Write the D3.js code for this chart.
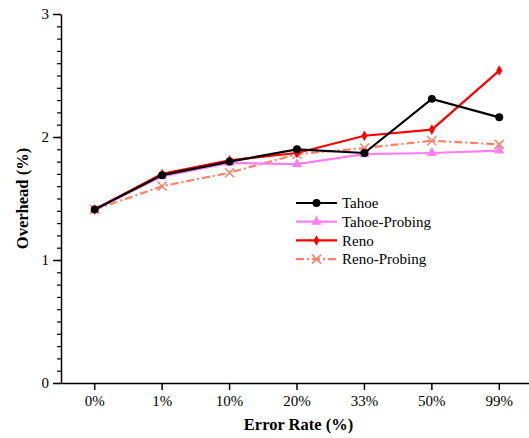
<!DOCTYPE html>
<html>
<head>
<meta charset="utf-8">
<script src="https://cdn.jsdelivr.net/npm/d3@7"></script>
</head>
<body style="margin:0">
<script>
// categories and series
var categories = ["0%", "1%", "10%", "20%", "33%", "50%", "99%"];
var tahoe        = [1.41, 1.69, 1.80, 1.90, 1.87, 2.31, 2.16];
var tahoeProbing = [1.41, 1.68, 1.79, 1.78, 1.86, 1.87, 1.89];
var reno         = [1.41, 1.70, 1.81, 1.87, 2.01, 2.06, 2.54];
var renoProbing  = [1.41, 1.60, 1.71, 1.86, 1.91, 1.97, 1.94];
var yTicks = [0, 1, 2, 3];

var serifFont = "Liberation Serif, Times New Roman, serif";

var series = [
    {name: "Tahoe", values: tahoe, color: "#000000", symbol: d3.symbolCircle, size: 50, dash: null},
    {name: "Tahoe-Probing", values: tahoeProbing, color: "#ff7ff0", symbol: d3.symbolTriangle, size: 45, dash: null},
    {name: "Reno", values: reno, color: "#ff0000", symbol: d3.symbolDiamond, size: 32, dash: null},
    {name: "Reno-Probing", values: renoProbing, color: "#ff8066", symbol: "x", size: 0, dash: "8,3,2,3"}
];

var margin = {top: 14, right: 0, bottom: 55, left: 61},
    width = 529 - margin.left - margin.right,
    height = 438 - margin.top - margin.bottom;

var svg = d3.select("body")
    .append("svg")
        .attr("width", 529)
        .attr("height", 438)
        .attr("font-family", serifFont)
    .append("g")
        .attr("transform", "translate(" + margin.left + "," + margin.top + ")");

// X scale
var x = d3.scaleBand()
    .domain(categories)
    .range([0, 472]);
var xc = function(i) { return x(categories[i]) + x.bandwidth() / 2; };

// Y scale
var y = d3.scaleLinear()
    .domain([0, 3])
    .range([height, 0]);

// minor y ticks
svg.append("g")
    .call(d3.axisLeft(y).tickValues(d3.range(0, 3.001, 0.1)).tickSize(4).tickFormat(""))
    .call(g => g.select(".domain").remove())
    .selectAll("line").attr("stroke-width", 1.2);

// y axis
var yAxis = svg.append("g")
    .call(d3.axisLeft(y).tickValues(yTicks).tickSize(8).tickSizeOuter(0).tickPadding(4).tickFormat(d3.format("d")))
    .attr("font-family", serifFont)
    .attr("font-size", 15);
yAxis.select(".domain").attr("stroke-width", 1.5);
yAxis.selectAll("line").attr("stroke-width", 1.5);
yAxis.selectAll("text").attr("font-family", serifFont);

// x axis
var xAxis = svg.append("g")
    .attr("transform", "translate(0," + height + ")")
    .call(d3.axisBottom(x).tickSize(7).tickSizeOuter(0).tickPadding(5))
    .attr("font-family", serifFont)
    .attr("font-size", 15);
xAxis.select(".domain").attr("stroke-width", 1.5);
xAxis.selectAll("line").attr("stroke-width", 1.5);
xAxis.selectAll("text").attr("font-family", serifFont);

// axis labels
svg.append("text")
    .attr("x", 237.5)
    .attr("y", height + 47)
    .attr("text-anchor", "middle")
    .attr("font-family", serifFont)
    .attr("font-size", 16.5)
    .attr("font-weight", "bold")
    .text("Error Rate (%)");

svg.append("text")
    .attr("transform", "rotate(-90)")
    .attr("x", -(y(1.5)))
    .attr("y", -33)
    .attr("text-anchor", "middle")
    .attr("font-family", serifFont)
    .attr("font-size", 16.5)
    .attr("font-weight", "bold")
    .text("Overhead (%)");

function drawMarker(g, s, cx, cy) {
    if (s.symbol === "x") {
        g.append("path")
            .attr("d", "M" + (cx - 4.5) + "," + (cy - 4.5) + "L" + (cx + 4.5) + "," + (cy + 4.5) +
                       "M" + (cx - 4.5) + "," + (cy + 4.5) + "L" + (cx + 4.5) + "," + (cy - 4.5))
            .attr("stroke", s.color)
            .attr("stroke-width", 1.5)
            .attr("fill", "none");
    } else {
        g.append("path")
            .attr("d", d3.symbol().type(s.symbol).size(s.size)())
            .attr("transform", "translate(" + cx + "," + cy + ")")
            .attr("fill", s.color);
    }
}

// lines and markers
var line = d3.line()
    .x(function(d, i) { return xc(i); })
    .y(function(d) { return y(d); });

series.slice().reverse().forEach(function(s) {
    var g = svg.append("g");
    g.append("path")
        .datum(s.values)
        .attr("fill", "none")
        .attr("stroke", s.color)
        .attr("stroke-width", 2.2)
        .attr("stroke-dasharray", s.dash)
        .attr("d", line);
    s.values.forEach(function(v, i) { drawMarker(g, s, xc(i), y(v)); });
});

// legend
var legend = svg.append("g")
    .attr("transform", "translate(235,189)");
series.forEach(function(s, i) {
    var row = legend.append("g").attr("transform", "translate(0," + (i * 18.7) + ")");
    row.append("line")
        .attr("x1", 0).attr("x2", 41)
        .attr("stroke", s.color)
        .attr("stroke-width", 2.2)
        .attr("stroke-dasharray", s.dash);
    drawMarker(row, s, 20.5, 0);
    row.append("text")
        .attr("x", 46)
        .attr("dy", "0.35em")
        .attr("font-family", serifFont)
        .attr("font-size", 15)
        .text(s.name);
});
</script>
</body>
</html>
